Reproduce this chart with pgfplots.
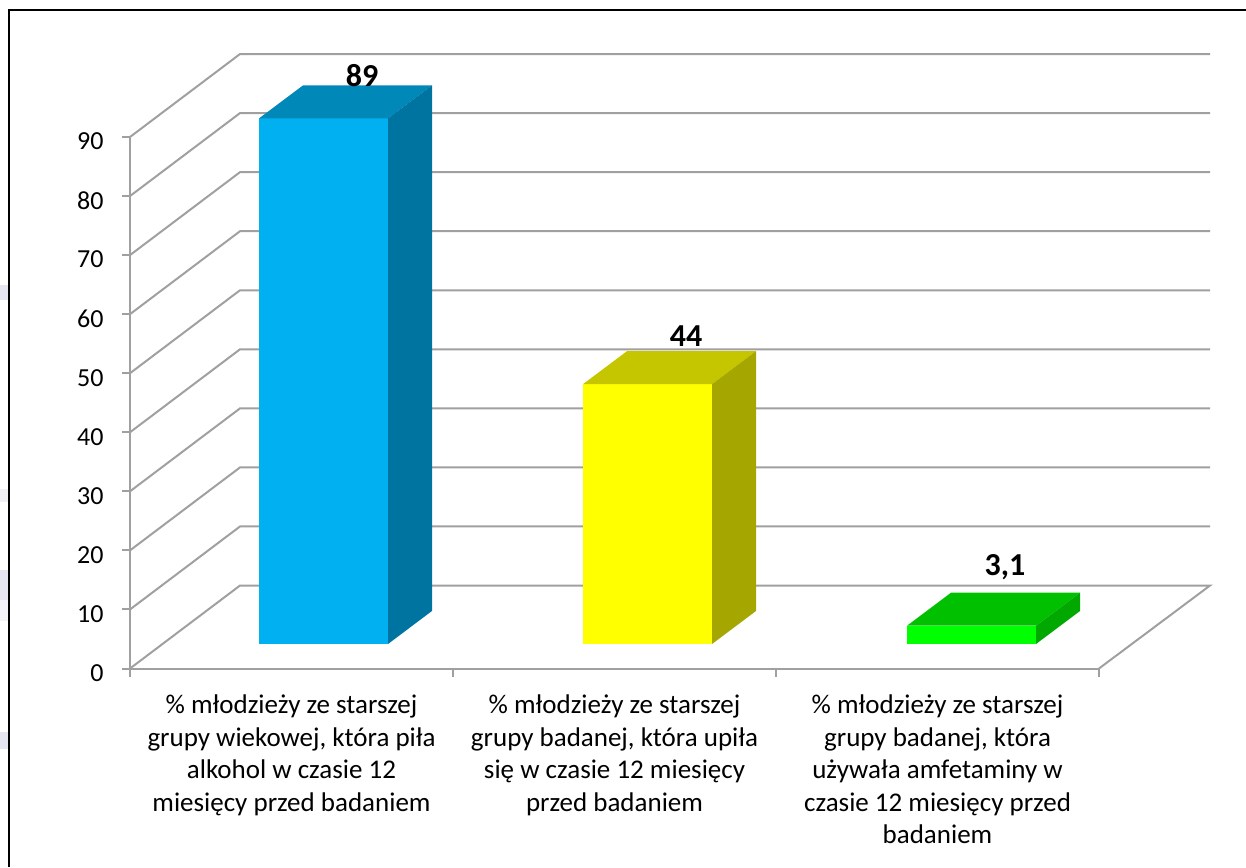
\documentclass[border=0pt]{standalone}
\usepackage{pgfplots}
\pgfplotsset{compat=1.18}
\usepackage{fontspec}
\setmainfont{Carlito}
\definecolor{gridg}{HTML}{A0A0A0}
\definecolor{wm}{HTML}{E6E6F2}
\definecolor{b1}{HTML}{00B0F0}\definecolor{b2}{HTML}{0088B8}\definecolor{b3}{HTML}{0074A0}
\definecolor{y1}{HTML}{FFFF00}\definecolor{y2}{HTML}{C6C600}\definecolor{y3}{HTML}{A6A600}
\definecolor{g1}{HTML}{00FF00}\definecolor{g2}{HTML}{00C000}\definecolor{g3}{HTML}{00A800}
\begin{document}
\begin{tikzpicture}
\useasboundingbox (-130pt,-198.5pt) rectangle (1116pt,668.5pt);
% faint background remnants at the left edge
\fill[wm] (-130pt,383.5pt) rectangle (-122pt,368.5pt);
\fill[wm!60] (-130pt,179.5pt) rectangle (-122pt,166.5pt);
\fill[wm] (-130pt,98.5pt) rectangle (-122pt,68.5pt);
\fill[wm!50] (-130pt,68.5pt) rectangle (-122pt,47.5pt);
\fill[wm] (-130pt,-63.5pt) rectangle (-122pt,-80.5pt);
\begin{axis}[
  scale only axis, width=969pt, height=531.5pt,
  xmin=0, xmax=3, ymin=0, ymax=90,
  clip=false,
  axis x line*=bottom, axis y line*=left,
  axis line style={gridg, line width=2pt, -},
  xtick={0.5,1.5,2.5},
  xticklabels={
    {\% młodzieży ze starszej\\grupy wiekowej, która piła\\alkohol w czasie 12\\miesięcy przed badaniem},
    {\% młodzieży ze starszej\\grupy badanej, która upiła\\się w czasie 12 miesięcy\\przed badaniem},
    {\% młodzieży ze starszej\\grupy badanej, która\\używała amfetaminy w\\czasie 12 miesięcy przed\\badaniem}},
  minor xtick={0,1,2,3},
  ytick={0,10,...,90},
  major x tick style={draw=none},
  major tick length=0pt,
  minor tick length=8pt,
  minor tick style={gridg, line width=2pt},
  x tick style={gridg},
  y tick style={gridg, line width=2pt},
  tick align=outside,
  /pgf/number format/assume math mode=true,
  yticklabel style={font=\fontsize{26}{30}\selectfont, black, anchor=east, xshift=-23pt, yshift=-4.5pt},
  xticklabel style={font=\fontsize{27}{32.5}\selectfont, black, align=center, anchor=north, yshift=-23pt},
  extra y ticks={0,10,...,90}, extra y tick labels={},
  extra y tick style={major tick length=8pt, tick style={gridg, line width=2pt}},
]
% gridlines (front wall edge, back wall)
\addplot[gridg, line width=2pt] coordinates {(0,0)(0.3406,14.05)(3.3437,14.05)(3,0)};
\addplot[gridg, line width=2pt] coordinates {(0,10)(0.3406,24.05)(3.3437,24.05)};
\addplot[gridg, line width=2pt] coordinates {(0,20)(0.3406,34.05)(3.3437,34.05)};
\addplot[gridg, line width=2pt] coordinates {(0,30)(0.3406,44.05)(3.3437,44.05)};
\addplot[gridg, line width=2pt] coordinates {(0,40)(0.3406,54.05)(3.3437,54.05)};
\addplot[gridg, line width=2pt] coordinates {(0,50)(0.3406,64.05)(3.3437,64.05)};
\addplot[gridg, line width=2pt] coordinates {(0,60)(0.3406,74.05)(3.3437,74.05)};
\addplot[gridg, line width=2pt] coordinates {(0,70)(0.3406,84.05)(3.3437,84.05)};
\addplot[gridg, line width=2pt] coordinates {(0,80)(0.3406,94.05)(3.3437,94.05)};
\addplot[gridg, line width=2pt] coordinates {(0,90)(0.3406,104.05)(3.3437,104.05)};
% bar 1: 89
\addplot[fill=b1, draw=none] coordinates {(0.3994,4.15)(0.7988,4.15)(0.7988,93.15)(0.3994,93.15)} --cycle;
\addplot[fill=b2, draw=none] coordinates {(0.3994,93.15)(0.7988,93.15)(0.9350,98.74)(0.5356,98.74)} --cycle;
\addplot[fill=b3, draw=none] coordinates {(0.7988,4.15)(0.9350,9.74)(0.9350,98.74)(0.7988,93.15)} --cycle;
% bar 2: 44
\addplot[fill=y1, draw=none] coordinates {(1.4025,4.15)(1.8019,4.15)(1.8019,48.15)(1.4025,48.15)} --cycle;
\addplot[fill=y2, draw=none] coordinates {(1.4025,48.15)(1.8019,48.15)(1.9381,53.74)(1.5387,53.74)} --cycle;
\addplot[fill=y3, draw=none] coordinates {(1.8019,4.15)(1.9381,9.74)(1.9381,53.74)(1.8019,48.15)} --cycle;
% bar 3: 3,1
\addplot[fill=g1, draw=none] coordinates {(2.4056,4.15)(2.8050,4.15)(2.8050,7.25)(2.4056,7.25)} --cycle;
\addplot[fill=g2, draw=none] coordinates {(2.4056,7.25)(2.8050,7.25)(2.9412,12.84)(2.5418,12.84)} --cycle;
\addplot[fill=g3, draw=none] coordinates {(2.8050,4.15)(2.9412,9.74)(2.9412,12.84)(2.8050,7.25)} --cycle;
% value labels
\node[font=\fontsize{32}{36}\selectfont\bfseries, black] at (axis cs:0.7183,100.4) {89};
\node[font=\fontsize{32}{36}\selectfont\bfseries, black] at (axis cs:1.7214,56.3) {44};
\node[font=\fontsize{32}{36}\selectfont\bfseries, black] at (axis cs:2.7090,17.1) {3,1};
\end{axis}
% outer frame
\draw[black, line width=2pt] (-121pt,-198.5pt) -- (-121pt,658.5pt) -- (1116pt,658.5pt);
\end{tikzpicture}
\end{document}
